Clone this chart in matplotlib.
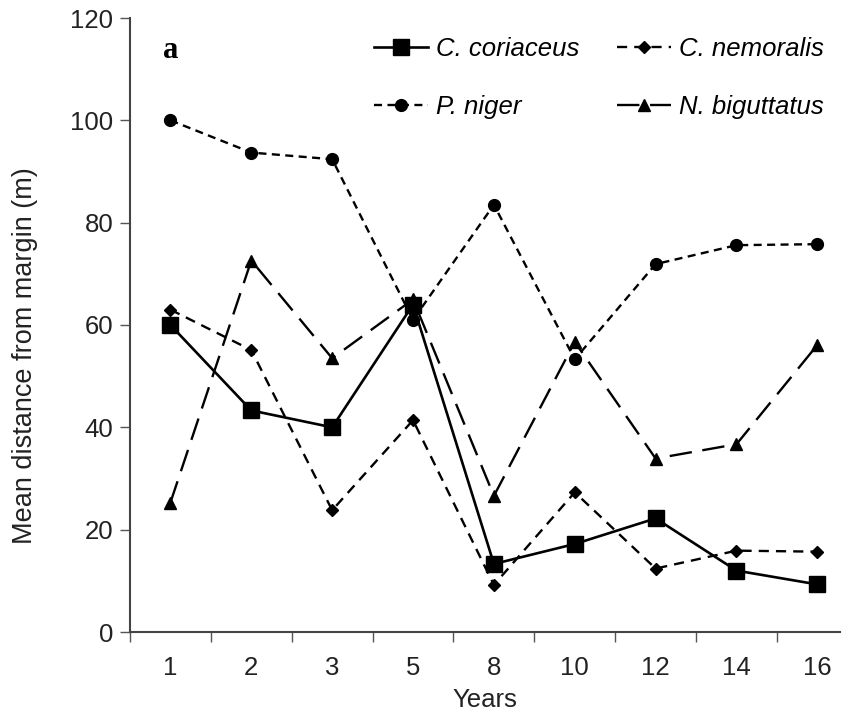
import matplotlib
matplotlib.use("Agg")
from matplotlib import pyplot as plt
from matplotlib.ticker import FixedLocator
import numpy as np

plt.rcParams['font.family'] = ['Liberation Sans', 'DejaVu Sans']

years = ['1', '2', '3', '5', '8', '10', '12', '14', '16']

coriaceus = [60, 43.3, 40, 64, 13.3, 17.2, 22.2, 12.0, 9.3]
nemoralis = [63, 55.1, 23.8, 41.4, 9.2, 27.3, 12.4, 15.9, 15.7]
niger = [100, 93.7, 92.4, 61, 83.5, 53.3, 71.9, 75.6, 75.8]
biguttatus = [25.3, 72.6, 53.5, 65, 26.6, 56.7, 33.9, 36.7, 56.1]

x = np.arange(len(years))

fig = plt.figure(figsize=(8.51, 7.12), dpi=100)
ax = fig.add_axes([130 / 851, 80 / 712, 710 / 851, 614 / 712])

l1, = ax.plot(x, coriaceus, color='black', lw=1.9, marker='s', ms=12,
              label='C. coriaceus')
l2, = ax.plot(x, nemoralis, color='black', lw=1.7, dashes=(4.3, 3),
              marker='D', ms=6, label='C. nemoralis')
l3, = ax.plot(x, niger, color='black', lw=1.7, dashes=(3.4, 2.3),
              marker='o', ms=8.5, label='P. niger')
l4, = ax.plot(x, biguttatus, color='black', lw=1.7, dashes=(9.5, 4.5),
              marker='^', ms=9, label='N. biguttatus')

ax.set_xlim(-0.5, 8.28)
ax.set_ylim(0, 120)
ax.set_yticks(range(0, 121, 20))
ax.set_xticks(x)
ax.set_xticklabels(years)
ax.xaxis.set_minor_locator(FixedLocator(np.arange(-0.5, 8.3, 1)))
ax.tick_params(axis='x', which='major', length=0, pad=17, labelsize=18.5)
ax.tick_params(axis='x', which='minor', length=7, width=1, color='#555555')
ax.tick_params(axis='y', length=7, width=1, color='#555555', labelsize=18.5,
               pad=5)
ax.tick_params(labelcolor='#222222')

for side in ('top', 'right'):
    ax.spines[side].set_visible(False)
for side in ('left', 'bottom'):
    ax.spines[side].set_linewidth(1.5)
    ax.spines[side].set_color('#444444')

ax.set_xlabel('Years', fontsize=18.5, labelpad=6, color='#222222')
ax.set_ylabel('Mean distance from margin (m)', fontsize=19.5, color='#222222')
ax.yaxis.set_label_coords(-0.13, 0.45)

ax.text(0.046, 0.935, 'a', transform=ax.transAxes, fontsize=22,
        fontweight='bold', family='Liberation Serif')

leg = ax.legend(handles=[l1, l3, l2, l4], ncol=2, loc='upper right',
                bbox_to_anchor=(1.01, 1.006), frameon=False, handlelength=2.1,
                handletextpad=0.3, columnspacing=1.5, labelspacing=1.3,
                prop={'style': 'italic', 'size': 18.5})

fig.savefig('out.png', dpi=100)
